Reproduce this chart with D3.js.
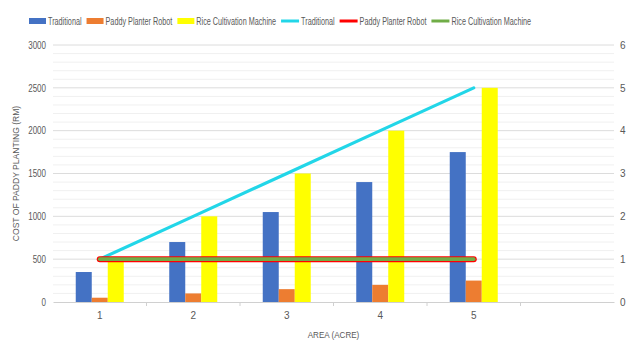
<!DOCTYPE html>
<html>
<head>
<meta charset="utf-8">
<script src="https://cdn.jsdelivr.net/npm/d3@7/dist/d3.min.js"></script>
<style>
  html, body { margin: 0; padding: 0; background: #fff; }
  svg { display: block; }
  text { font-family: "Liberation Sans", "DejaVu Sans", sans-serif; fill: #595959; }
</style>
</head>
<body>
<svg id="chart" width="630" height="341"></svg>
<script>
// Area in acres
const categories = ["1", "2", "3", "4", "5"];
// Planting cost (RM), left axis
const costTraditional = [350, 700, 1050, 1400, 1750];
const costRobot = [50, 100, 150, 200, 250];
const costMachine = [500, 1000, 1500, 2000, 2500];
// Line series on the right axis
const lineTraditional = [1, 2, 3, 4, 5];
const lineRobot = [1, 1, 1, 1, 1];
const lineMachine = [1, 1, 1, 1, 1];
// Axis ticks
const leftTicks = [0, 500, 1000, 1500, 2000, 2500, 3000];
const rightTicks = [0, 1, 2, 3, 4, 5, 6];

const svg = d3.select("#chart");
const plot = { left: 53, right: 614, top: 45, bottom: 302 };

// one extra empty slot on the right of the category axis
const x = d3.scaleBand().domain([...categories, ""]).range([plot.left, plot.right]).padding(0);
const yL = d3.scaleLinear().domain([0, 3000]).range([plot.bottom, plot.top]);
const yR = d3.scaleLinear().domain([0, 6]).range([plot.bottom, plot.top]);

const barSeries = [
  { name: "Traditional", values: costTraditional, color: "#4472C4" },
  { name: "Paddy Planter Robot", values: costRobot, color: "#ED7D31" },
  { name: "Rice Cultivation Machine", values: costMachine, color: "#FFFF00" }
];
const lineSeries = [
  { name: "Traditional", values: lineTraditional, color: "#22D6E8", width: 3.2 },
  { name: "Paddy Planter Robot", values: lineRobot, color: "#FF0000", width: 6 },
  { name: "Rice Cultivation Machine", values: lineMachine, color: "#70AD47", width: 3.6 }
];

const groupWidth = 48;
const xs = d3.scaleBand().domain(barSeries.map((d, i) => i)).range([0, groupWidth]).padding(0);

// condensed text helper
function condense(sel, factor) {
  sel.each(function () {
    const w = this.getComputedTextLength();
    d3.select(this).attr("textLength", w * factor).attr("lengthAdjust", "spacingAndGlyphs");
  });
}

// minor gridlines every 100
svg.append("g").selectAll("line")
  .data(d3.range(100, 3000, 100).filter(v => v % 500 !== 0))
  .join("line")
  .attr("x1", plot.left).attr("x2", plot.right)
  .attr("y1", d => yL(d)).attr("y2", d => yL(d))
  .attr("stroke", "#f0f0f0").attr("stroke-width", 1);

// major gridlines
svg.append("g").selectAll("line")
  .data(leftTicks.filter(v => v > 0))
  .join("line")
  .attr("x1", plot.left).attr("x2", plot.right)
  .attr("y1", d => yL(d)).attr("y2", d => yL(d))
  .attr("stroke", "#dcdcdc").attr("stroke-width", 1);

// left axis
const leftAxis = svg.append("g")
  .attr("transform", `translate(${plot.left},0)`)
  .call(d3.axisLeft(yL).tickValues(leftTicks).tickSize(0).tickPadding(7).tickFormat(d3.format("d")));
leftAxis.select(".domain").remove();
leftAxis.selectAll("text").style("font-size", "10px").attr("fill", "#595959").call(condense, 0.8);

// right axis
const rightAxis = svg.append("g")
  .attr("transform", `translate(${plot.right},0)`)
  .call(d3.axisRight(yR).tickValues(rightTicks).tickSize(0).tickPadding(6).tickFormat(d3.format("d")));
rightAxis.select(".domain").remove();
rightAxis.selectAll("text").style("font-size", "10px").attr("fill", "#595959");

// bars
barSeries.forEach((s, si) => {
  svg.append("g").selectAll("rect")
    .data(s.values.map((v, i) => ({ cat: categories[i], v })))
    .join("rect")
    .attr("x", d => x(d.cat) + x.bandwidth() / 2 - groupWidth / 2 + xs(si))
    .attr("width", xs.bandwidth())
    .attr("y", d => yL(d.v))
    .attr("height", d => yL(0) - yL(d.v))
    .attr("fill", s.color);
});

// category axis
const bottomAxis = svg.append("g")
  .attr("transform", `translate(0,${plot.bottom})`)
  .call(d3.axisBottom(x).tickSize(0).tickPadding(10).tickFormat(d => d));
bottomAxis.select(".domain").attr("stroke", "#d0d0d0");
bottomAxis.selectAll("text").style("font-size", "10px").attr("fill", "#595959");
// tick marks at category boundaries
svg.append("g").selectAll("line")
  .data(x.domain().slice(1))
  .join("line")
  .attr("x1", d => x(d)).attr("x2", d => x(d))
  .attr("y1", plot.bottom).attr("y2", plot.bottom + 4)
  .attr("stroke", "#d0d0d0");

// lines
const line = d3.line()
  .x((d, i) => x(categories[i]) + x.bandwidth() / 2)
  .y(d => yR(d));
lineSeries.forEach(s => {
  svg.append("path")
    .datum(s.values)
    .attr("d", line)
    .attr("fill", "none")
    .attr("stroke", s.color)
    .attr("stroke-width", s.width)
    .attr("stroke-linecap", "round")
    .attr("stroke-linejoin", "round");
});

// axis titles
svg.append("text")
  .attr("transform", `translate(19,${(plot.top + plot.bottom) / 2}) rotate(-90)`)
  .attr("text-anchor", "middle")
  .style("font-size", "9.5px")
  .text("COST OF PADDY PLANTING (RM)")
  .call(condense, 0.9);
svg.append("text")
  .attr("x", (plot.left + plot.right) / 2)
  .attr("y", 338)
  .attr("text-anchor", "middle")
  .style("font-size", "9.5px")
  .text("AREA (ACRE)")
  .call(condense, 0.85);

// legend: condensed labels via horizontal scaling
const legend = svg.append("g");
let lx = 29;
const ly = 21;
const squeeze = 0.69;
const items = [
  ...barSeries.map(s => ({ name: s.name, color: s.color, type: "bar" })),
  ...lineSeries.map(s => ({ name: s.name, color: s.color, type: "line" }))
];
items.forEach(it => {
  if (it.type === "bar") {
    legend.append("rect").attr("x", lx).attr("y", ly - 3).attr("width", 17).attr("height", 6).attr("fill", it.color);
    lx += 19;
  } else {
    legend.append("line").attr("x1", lx).attr("x2", lx + 18).attr("y1", ly).attr("y2", ly)
      .attr("stroke", it.color).attr("stroke-width", 3);
    lx += 20;
  }
  const t = legend.append("text")
    .attr("transform", `translate(${lx},${ly + 3.5}) scale(${squeeze},1)`)
    .style("font-size", "10.5px")
    .text(it.name);
  const w = t.node().getComputedTextLength() * squeeze;
  lx += w + 5;
});
</script>
</body>
</html>
